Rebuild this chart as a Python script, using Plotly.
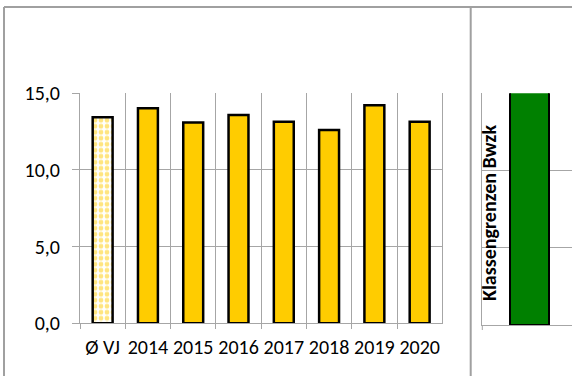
import plotly.graph_objects as go

categories = ["Ø VJ", "2014", "2015", "2016", "2017", "2018", "2019", "2020"]
values = [13.44, 14.02, 13.09, 13.59, 13.15, 12.61, 14.22, 13.15]
y_ticks = [0, 5, 10, 15]
class_label = ["Klassengrenzen Bwzk"]
class_values = [20]

W, H = 572, 376
FONT = "Carlito, Calibri, Lato, 'Liberation Sans', sans-serif"
GRID = "#a6a6a6"
YELLOW = "#ffcc00"

def px_x(p):
    return p / W

def px_y(p):
    return 1 - p / H

fig = go.Figure()

# average bar with pattern
fig.add_trace(go.Bar(
    x=categories[:1], y=values[:1], width=0.44,
    marker=dict(color="white", line=dict(color="black", width=2.5),
                pattern=dict(shape=".", fgcolor=YELLOW, bgcolor="white", size=6, solidity=0.5)),
    xaxis="x", yaxis="y", showlegend=False,
))
fig.add_trace(go.Bar(
    x=categories[1:], y=values[1:], width=0.44,
    marker=dict(color=YELLOW, line=dict(color="black", width=2.5)),
    xaxis="x", yaxis="y", showlegend=False,
))
fig.add_trace(go.Bar(
    x=[0], y=class_values, width=0.5,
    marker=dict(color="#008000", line=dict(color="black", width=2)),
    xaxis="x2", yaxis="y2", showlegend=False,
))

fig.update_layout(
    width=W, height=H,
    margin=dict(l=0, r=0, t=0, b=0, autoexpand=False),
    paper_bgcolor="white", plot_bgcolor="white",
    separators=",.",
    font=dict(family=FONT, size=20, color="black"),
    barmode="overlay",
    xaxis=dict(
        domain=[px_x(80), px_x(442.3)],
        type="category", categoryorder="array", categoryarray=categories,
        range=[-0.5, 7.5], tickangle=0, automargin=False,
        tickson="boundaries", ticks="outside", ticklen=5, tickcolor=GRID,
        ticklabelstandoff=6,
        showgrid=True, gridcolor=GRID, gridwidth=1,
        showline=True, linecolor=GRID, linewidth=1,
        tickfont=dict(size=20),
        anchor="y", fixedrange=True,
    ),
    yaxis=dict(
        domain=[px_y(323.3), px_y(93.3)],
        range=[0, 15], tickvals=y_ticks, tickformat=".1f", automargin=False,
        ticks="outside", ticklen=7, tickcolor=GRID, ticklabelstandoff=8,
        showgrid=True, gridcolor=GRID, gridwidth=1,
        showline=True, linecolor=GRID, linewidth=1, mirror=True,
        zeroline=False, tickfont=dict(size=20),
        anchor="x", fixedrange=True,
    ),
    xaxis2=dict(
        domain=[px_x(482.3), 1], automargin=False,
        range=[-0.605, 0.545], showticklabels=False, ticks="",
        showgrid=False, zeroline=False,
        showline=True, linecolor=GRID, linewidth=1,
        anchor="y2", fixedrange=True,
    ),
    yaxis2=dict(
        domain=[px_y(325), px_y(93.3)], automargin=False,
        range=[0, 15], tickvals=y_ticks, showticklabels=False,
        ticks="",
        showgrid=True, gridcolor=GRID, gridwidth=1,
        showline=True, linecolor=GRID, linewidth=1,
        zeroline=False, anchor="x2", fixedrange=True,
    ),
    annotations=[dict(
        text="<b>" + class_label[0] + "</b>", textangle=-90,
        xref="paper", yref="paper", x=px_x(489), y=px_y(213),
        xanchor="center", yanchor="middle", showarrow=False,
        font=dict(family=FONT, size=20, color="black"),
    )],
    shapes=[
        dict(type="line", xref="paper", yref="paper", x0=px_x(4), x1=1, y0=px_y(7), y1=px_y(7),
             line=dict(color="#a0a0a0", width=2)),
        dict(type="line", xref="paper", yref="paper", x0=px_x(4), x1=px_x(4), y0=px_y(7), y1=0,
             line=dict(color="#a0a0a0", width=2)),
        dict(type="line", xref="paper", yref="paper", x0=px_x(470.7), x1=px_x(470.7), y0=px_y(7), y1=0,
             line=dict(color="#a0a0a0", width=2)),
        dict(type="line", xref="paper", yref="paper", x0=px_x(482.3), x1=px_x(482.3), y0=px_y(325), y1=px_y(330),
             line=dict(color=GRID, width=1)),
    ],
)

fig.write_html("out.html", config={"displayModeBar": False, "staticPlot": True},
               post_script="document.body.style.margin='0';document.body.style.overflow='hidden';")
